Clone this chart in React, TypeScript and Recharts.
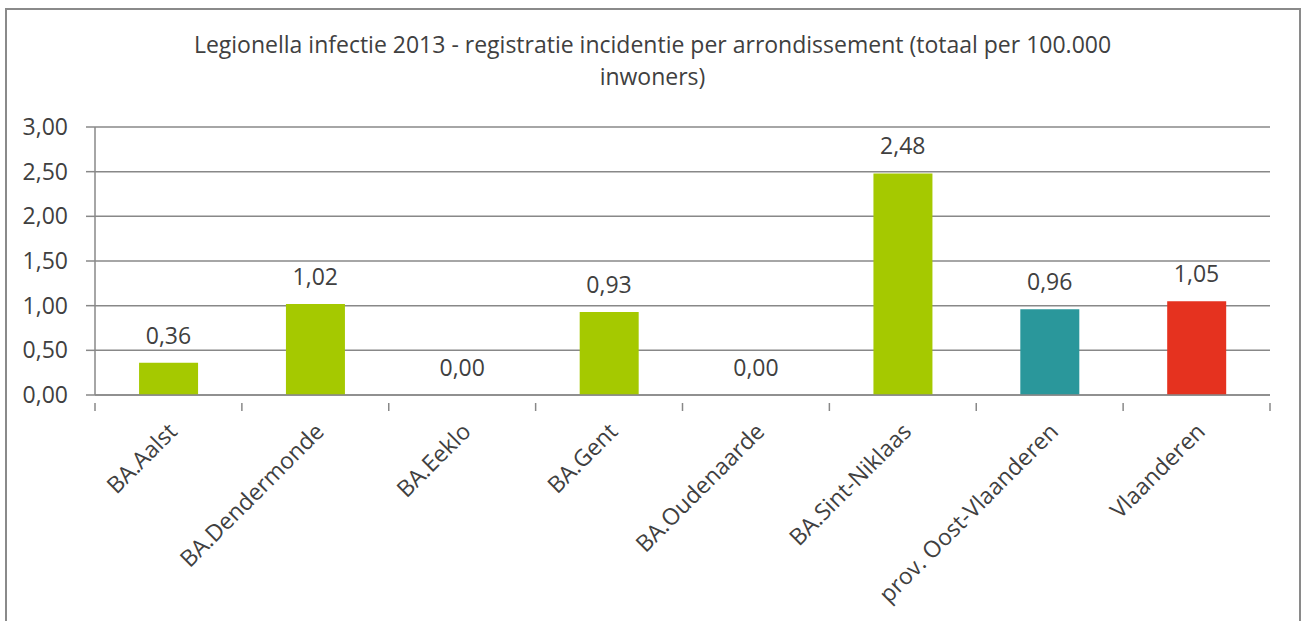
import React from "react";
import { Bar, Cell, CartesianGrid, ComposedChart, LabelList, Line, XAxis, YAxis } from "recharts";

const categories = [
  "BA.Aalst",
  "BA.Dendermonde",
  "BA.Eeklo",
  "BA.Gent",
  "BA.Oudenaarde",
  "BA.Sint-Niklaas",
  "prov. Oost-Vlaanderen",
  "Vlaanderen",
];
const incidence = [0.36, 1.02, 0.0, 0.93, 0.0, 2.48, 0.96, 1.05];
const yTicks = [0, 0.5, 1, 1.5, 2, 2.5, 3];
const titleLines = [
  "Legionella infectie 2013 - registratie incidentie per arrondissement (totaal per 100.000",
  "inwoners)",
];

const barColors = ["#a5c900", "#a5c900", "#a5c900", "#a5c900", "#a5c900", "#a5c900", "#2a979b", "#e5321f"];

const FONT = "'Open Sans', sans-serif";
const FS = 23;
const TEXT = "#404040";
const LINE = "#888888";

const WIDTH = 1305;
const HEIGHT = 621;
const MARGIN = { top: 127, right: 35, bottom: 0, left: 0 };
const Y_AXIS_W = 95;
const X_AXIS_H = 226;
const BAND = (WIDTH - MARGIN.left - MARGIN.right - Y_AXIS_W) / categories.length;

const data = categories.map((name, i) => ({ name, value: incidence[i] }));

function formatNl(v: number): string {
  return v.toFixed(2).replace(".", ",");
}

// x-as: schuine labels + streepjes op de grenzen tussen categorieën
function XTick(props: any) {
  const { x, y, payload, index, visibleTicksCount } = props;
  const half = payload?.offset || BAND / 2;
  const tx = x + 10;
  const ty = y + 30;
  const isLast = index === (visibleTicksCount ?? categories.length) - 1;
  return (
    <g>
      <line x1={x - half} x2={x - half} y1={y} y2={y + 8} stroke={LINE} strokeWidth={1.5} />
      {isLast && <line x1={x + half} x2={x + half} y1={y} y2={y + 8} stroke={LINE} strokeWidth={1.5} />}
      <text
        x={tx}
        y={ty}
        transform={`rotate(-45, ${tx}, ${ty})`}
        textAnchor="end"
        fill={TEXT}
        fontSize={FS}
        fontFamily={FONT}
      >
        {payload.value}
      </text>
    </g>
  );
}

export default function App() {
  return (
    <div
      style={{
        position: "absolute",
        left: 0,
        top: 0,
        width: WIDTH,
        height: HEIGHT,
        overflow: "hidden",
        background: "#fff",
        fontFamily: FONT,
      }}
    >
      <div
        style={{
          position: "absolute",
          left: 5,
          top: 8,
          width: 1296,
          height: 660,
          border: "2px solid #8a8a8a",
          boxSizing: "border-box",
        }}
      />
      <div
        style={{
          position: "absolute",
          left: 0,
          top: 28,
          width: WIDTH,
          textAlign: "center",
          fontSize: FS,
          lineHeight: "32px",
          color: TEXT,
        }}
      >
        {titleLines.map((t) => (
          <div key={t}>{t}</div>
        ))}
      </div>
      <div style={{ position: "absolute", left: 0, top: 0 }}>
        <ComposedChart width={WIDTH} height={HEIGHT} data={data} margin={MARGIN} barCategoryGap="30%">
          <CartesianGrid vertical={false} stroke={LINE} strokeWidth={1.5} />
          <XAxis
            dataKey="name"
            interval={0}
            height={X_AXIS_H}
            tickLine={false}
            axisLine={{ stroke: LINE, strokeWidth: 1.5 }}
            tick={<XTick />}
          />
          <YAxis
            width={Y_AXIS_W}
            domain={[0, 3]}
            ticks={yTicks}
            tickFormatter={formatNl}
            tickSize={9}
            tickMargin={18}
            tickLine={{ stroke: LINE, strokeWidth: 1.5 }}
            axisLine={{ stroke: LINE, strokeWidth: 1.5 }}
            tick={{ fill: TEXT, fontSize: FS, fontFamily: FONT }}
          />
          <Bar dataKey="value" isAnimationActive={false}>
            {data.map((d, i) => (
              <Cell key={d.name} fill={barColors[i]} />
            ))}
          </Bar>
          {/* onzichtbare lijn, enkel voor de waardelabels (ook bij 0) */}
          <Line dataKey="value" stroke="none" dot={false} activeDot={false} isAnimationActive={false} legendType="none">
            <LabelList
              dataKey="value"
              position="top"
              offset={19}
              formatter={(v: any) => formatNl(Number(v))}
              fill={TEXT}
              fontSize={FS}
              fontFamily={FONT}
            />
          </Line>
        </ComposedChart>
      </div>
    </div>
  );
}
